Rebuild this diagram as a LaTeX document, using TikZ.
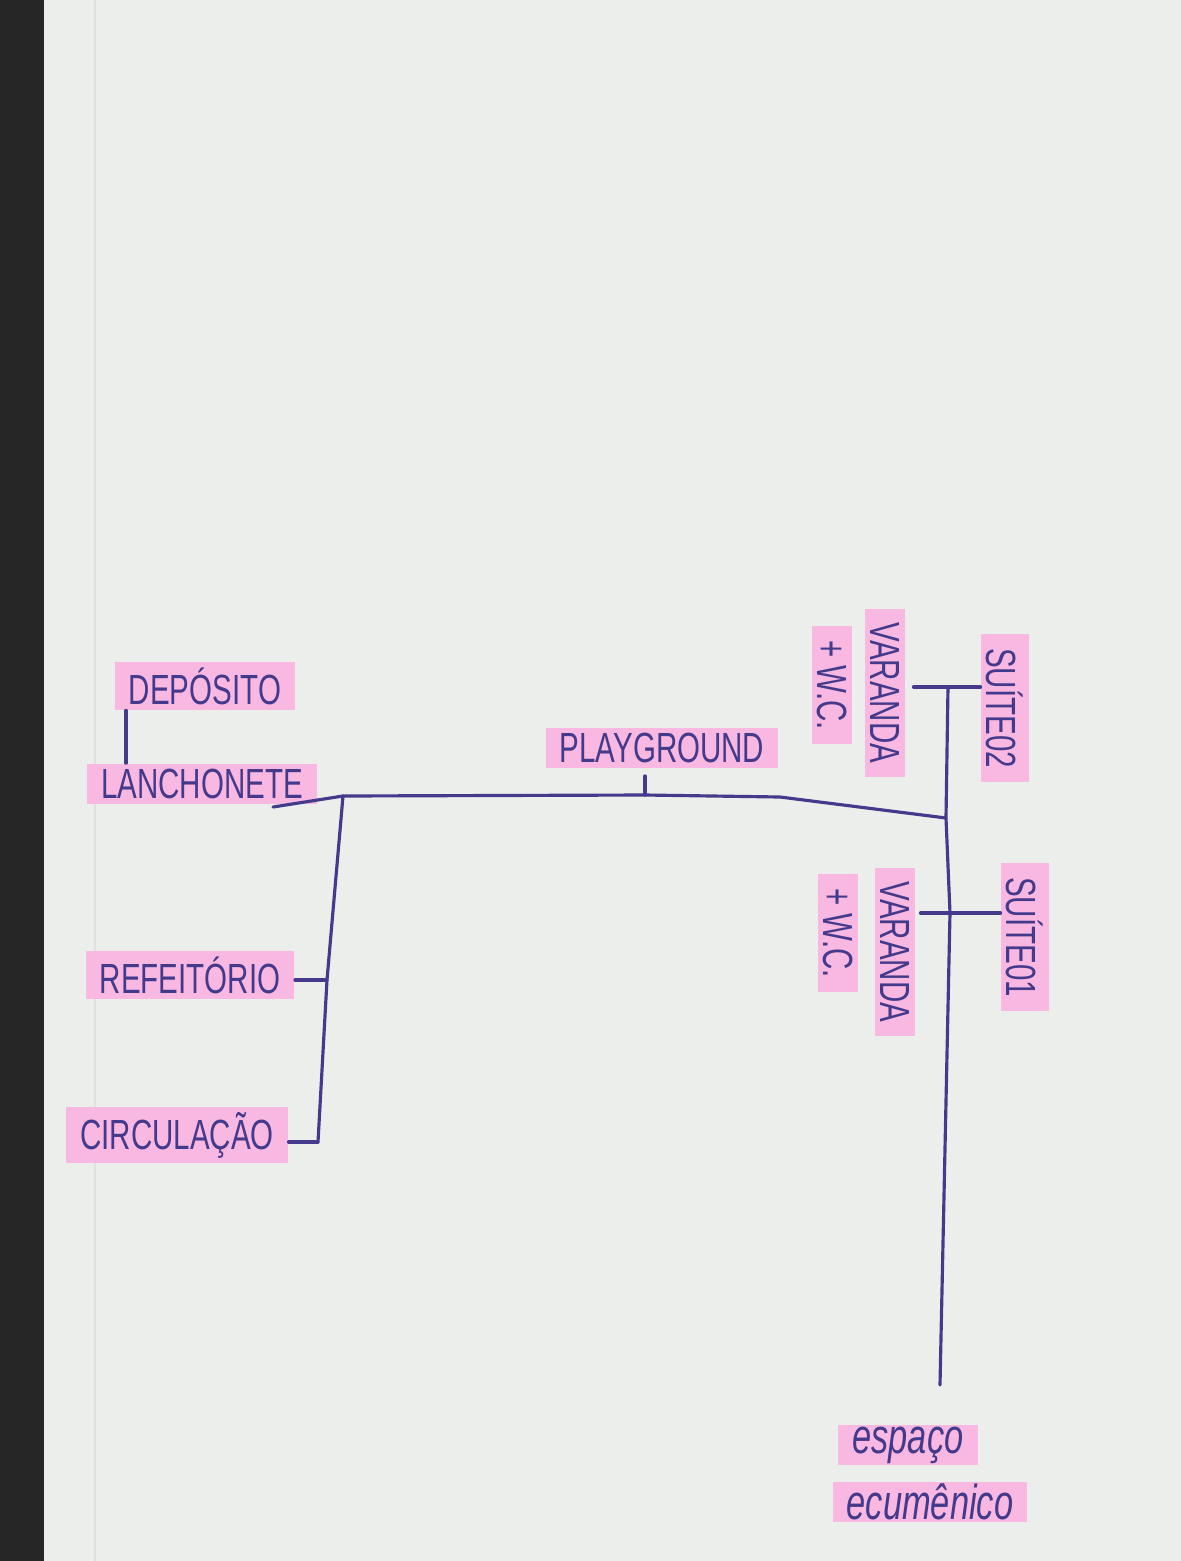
\documentclass[tikz,border=0pt]{standalone}
\usepackage{fontspec}
\setmainfont[FakeStretch=0.7]{Liberation Sans}
\usepackage{tikz}
\usetikzlibrary{calc,positioning}
\definecolor{ink}{RGB}{68,58,140}
\definecolor{marker}{RGB}{248,184,226}
\definecolor{paper}{RGB}{236,238,235}
\tikzstyle{room}  = [fill=marker, inner xsep=4pt, inner ysep=1.5pt, text=ink, font=\fontsize{12}{14}\selectfont]
\tikzstyle{vroom} = [room, rotate=-90]
\tikzstyle{cursive} = [room, inner ysep=0.5pt, font=\fontsize{14}{16}\selectfont\itshape]
\tikzstyle{pen}   = [ink, line width=0.9pt, line cap=round]

\begin{document}
\begin{tikzpicture}[]
		\useasboundingbox (0,0) rectangle (11.81,-15.61);
		\fill[paper] (0,0) rectangle (11.81,-15.61);
		\fill[black!85] (0,0) rectangle (0.44,-15.61);
		\draw[black!12] (0.95,0) -- (0.95,-15.61);

		\node[room] (dep) at (2.05,-6.86) {DEPÓSITO};
		\node[room] (lan) at (2.02,-7.84) {LANCHONETE};
		\node[room] (ref) at (1.90,-9.75) {REFEITÓRIO};
		\node[room] (cir) at (1.77,-11.35) {CIRCULAÇÃO};
		\node[room] (pg) at (6.62,-7.48) {PLAYGROUND};

		\node[vroom] (s2) at (10.05,-7.08) {SUÍTE02};
		\node[vroom] (v2) at (8.85,-6.93) {VARANDA};
		\node[vroom] (w2) at (8.32,-6.85) {+ W.C.};
		\node[vroom] (s1) at (10.25,-9.37) {SUÍTE01};
		\node[vroom] (v1) at (8.95,-9.52) {VARANDA};
		\node[vroom] (w1) at (8.38,-9.33) {+ W.C.};

		\node[cursive] (esp) at (9.08,-14.45) {espaço};
		\node[cursive] (ecu) at (9.30,-15.02) {ecumênico};

		\coordinate (lanend) at (2.73,-8.07);
		\coordinate (lj) at (3.43,-7.96);
		\coordinate (pj) at (6.45,-7.95);
		\coordinate (sj) at (9.46,-8.18);
		\coordinate (s2j) at (9.48,-6.87);
		\coordinate (s1j) at (9.50,-9.13);
		\coordinate (sb) at (9.40,-13.85);
		\coordinate (rj) at (3.27,-9.80);
		\coordinate (cj) at (3.18,-11.42);

		\draw[pen] (dep.south -| 1.26,0) -- (lan.north -| 1.26,0);
		\draw[pen] (lanend) -- (lj) -- (pj) -- (7.8,-7.97) -- (sj);
		\draw[pen] (pj) -- ([yshift=-2pt]pg.south -| pj);
		\draw[pen] (lj) -- (rj) -- (cj);
		\draw[pen] (ref.east |- rj) -- (rj);
		\draw[pen] (cir.east |- cj) -- (cj);

		\draw[pen] (s2j) -- (sj) -- (s1j) -- (sb);
		\draw[pen] ([xshift=0.08cm]s2j -| v2.north) -- (s2j) -- (s2j -| s2.south);
		\draw[pen] ([xshift=0.05cm]s1j -| v1.north) -- (s1j) -- (s1j -| s1.south);
	\end{tikzpicture}
\end{document}
